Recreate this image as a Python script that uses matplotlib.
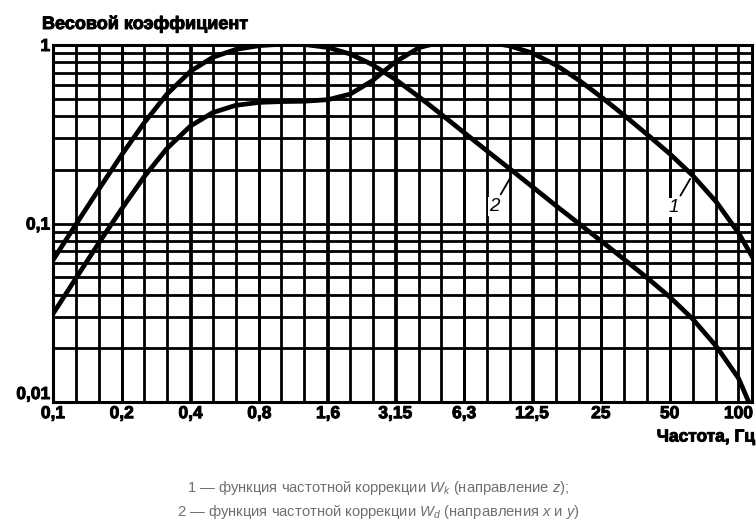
import matplotlib
matplotlib.use("Agg")
import matplotlib.pyplot as plt
import matplotlib.patheffects as pe
from matplotlib.ticker import FixedLocator, NullFormatter, FixedFormatter

# ---- data (third-octave band centre frequencies, Hz) ----
freq = [0.1, 0.125, 0.16, 0.2, 0.25, 0.315, 0.4, 0.5, 0.63, 0.8,
        1.0, 1.25, 1.6, 2.0, 2.5, 3.15, 4.0, 5.0, 6.3, 8.0,
        10.0, 12.5, 16.0, 20.0, 25.0, 31.5, 40.0, 50.0, 63.0, 80.0,
        100.0, 125.0]
# curve 1 : W_k (direction z)
wk = [0.0312, 0.0486, 0.0790, 0.121, 0.182, 0.263, 0.352, 0.418, 0.459, 0.477,
      0.482, 0.484, 0.494, 0.531, 0.631, 0.804, 0.967, 1.039, 1.054, 1.036,
      0.988, 0.902, 0.768, 0.636, 0.513, 0.405, 0.314, 0.246, 0.186, 0.132,
      0.0887, 0.0540]
# curve 2 : W_d (directions x and y)
wd = [0.0624, 0.0973, 0.158, 0.243, 0.365, 0.530, 0.713, 0.853, 0.944, 0.992,
      1.011, 1.008, 0.968, 0.890, 0.776, 0.642, 0.512, 0.409, 0.323, 0.253,
      0.202, 0.161, 0.125, 0.100, 0.0800, 0.0632, 0.0494, 0.0388, 0.0292, 0.0205,
      0.0136, 0.0070]

x_tick_vals = [0.1, 0.2, 0.4, 0.8, 1.6, 3.15, 6.3, 12.5, 25, 50, 100]
x_tick_labels = ["0,1", "0,2", "0,4", "0,8", "1,6", "3,15", "6,3", "12,5", "25", "50", "100"]
y_tick_vals = [0.01, 0.1, 1.0]
y_tick_labels = ["0,01", "0,1", "1"]

title_text = "Весовой коэффициент"
xlabel_text = "Частота, Гц"
caption1 = r"$1$ — функция частотной коррекции $W_k$ (направление $z$);"
caption2 = r"$2$ — функция частотной коррекции $W_d$ (направления $x$ и $y$)"

plt.rcParams['font.family'] = ['Liberation Sans', 'DejaVu Sans']
plt.rcParams['mathtext.fontset'] = 'custom'
plt.rcParams['mathtext.it'] = 'Liberation Sans:italic'
plt.rcParams['mathtext.rm'] = 'Liberation Sans'

heavy = [pe.withStroke(linewidth=0.7, foreground='black')]

fig = plt.figure(figsize=(7.56, 5.24), dpi=100)
ax = fig.add_axes([53/756, (524-402)/524, (752-53)/756, (402-45)/524])

ax.set_xscale('log')
ax.set_yscale('log')
ax.set_xlim(0.1, 114.6)
ax.set_ylim(0.01, 1.0)

# grid lines: third-octave verticals, 1-2-...-9 horizontals
third_oct = [10 ** (k / 10) for k in range(-10, 21)]
ax.xaxis.set_major_locator(FixedLocator(x_tick_vals))
ax.xaxis.set_major_formatter(FixedFormatter(x_tick_labels))
ax.xaxis.set_minor_locator(FixedLocator(third_oct))
ax.xaxis.set_minor_formatter(NullFormatter())
ax.yaxis.set_major_locator(FixedLocator(y_tick_vals))
ax.yaxis.set_major_formatter(FixedFormatter(y_tick_labels))
ymin = [m * 10 ** e for e in (-2, -1) for m in range(2, 10)]
ax.yaxis.set_minor_locator(FixedLocator(ymin))
ax.yaxis.set_minor_formatter(NullFormatter())

ax.grid(True, which='both', color='black', linewidth=2.0)
ax.tick_params(which='both', length=0)
ax.tick_params(axis='x', pad=3, labelsize=12.5)
ax.tick_params(axis='y', pad=2, labelsize=12.5)
for lab in ax.get_xticklabels() + ax.get_yticklabels():
    lab.set_fontweight('bold')
    lab.set_path_effects(heavy)
ylabs = ax.get_yticklabels()
ylabs[0].set_verticalalignment('bottom')
for s in ax.spines.values():
    s.set_linewidth(2.2)
    s.set_color('black')

ax.plot(freq, wk, color='black', linewidth=3.4, solid_capstyle='round', zorder=3)
ax.plot(freq, wd, color='black', linewidth=3.4, solid_capstyle='round', zorder=3)

ax.annotate("2", xy=(10.1, 0.183), xytext=(8.5, 0.125), fontsize=13.5,
            fontstyle='italic', ha='center', va='center',
            arrowprops=dict(arrowstyle='-', color='black', lw=1.3,
                            shrinkA=2, shrinkB=0),
            bbox=dict(boxstyle='square,pad=0.05', fc='white', ec='none'))
ax.annotate("1", xy=(61.5, 0.178), xytext=(52, 0.123), fontsize=13.5,
            fontstyle='italic', ha='center', va='center',
            arrowprops=dict(arrowstyle='-', color='black', lw=1.3,
                            shrinkA=2, shrinkB=0),
            bbox=dict(boxstyle='square,pad=0.05', fc='white', ec='none'))

fig.text(42/756, 1 - 24/524, title_text, fontsize=13, fontweight='bold',
         ha='left', va='center', path_effects=heavy)
fig.text(755/756, 1 - 437/524, xlabel_text, fontsize=12.5, fontweight='bold',
         ha='right', va='center', path_effects=heavy)
fig.text(378/756, 1 - 488/524, caption1, fontsize=10.6, color='#707070',
         ha='center', va='center')
fig.text(378/756, 1 - 512/524, caption2, fontsize=10.6, color='#707070',
         ha='center', va='center')

fig.savefig("out.png", dpi=100)
